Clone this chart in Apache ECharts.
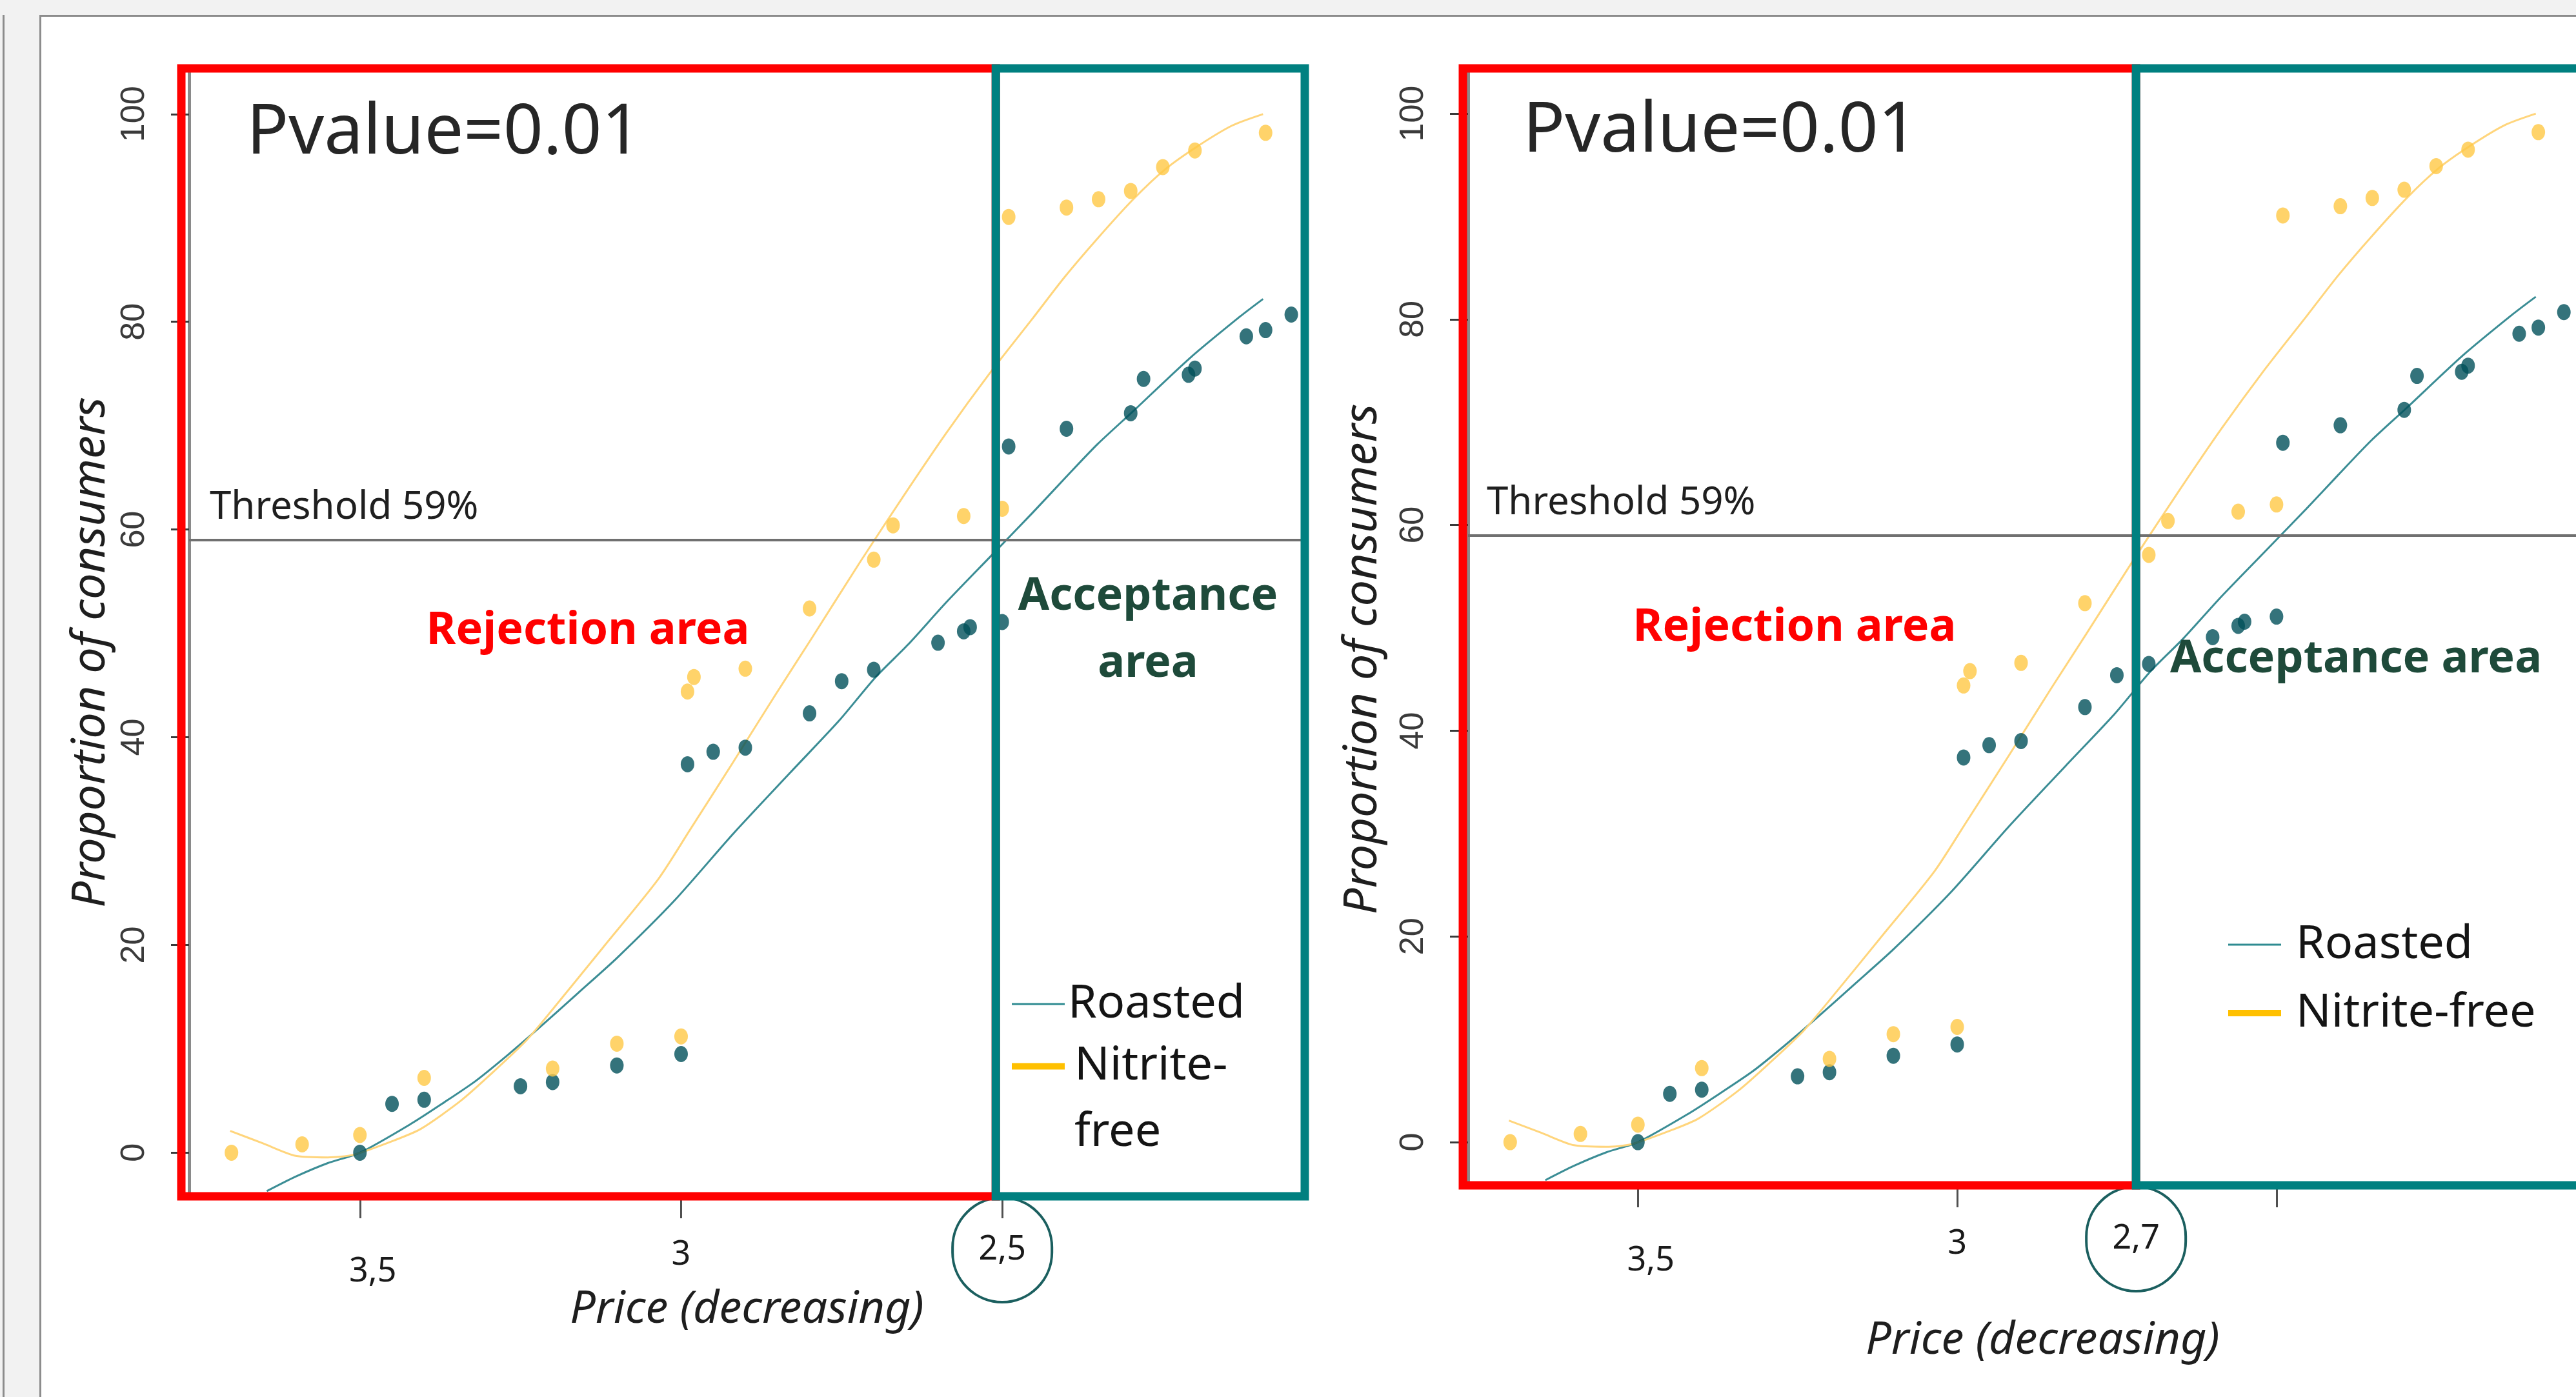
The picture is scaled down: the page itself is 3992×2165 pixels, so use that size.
<!DOCTYPE html>
<html>
<head>
<meta charset="utf-8">
<title>Price acceptance - Roasted vs Nitrite-free</title>
<script src="https://cdn.jsdelivr.net/npm/echarts@6/dist/echarts.min.js"></script>
<style>
  html, body { margin: 0; padding: 0; background: #f2f2f2; overflow: hidden; }
  #edge { position: absolute; left: 4px; top: 23px; width: 3px; height: 2200px; background: #8c8c8c; }
  #card { position: absolute; left: 61px; top: 23px; width: 4000px; height: 2200px; background: #fff; border: 3px solid #8c8c8c; }
  #chart-container { position: absolute; left: 0; top: 0; width: 3992px; height: 2165px; }
</style>
</head>
<body>
<div id="edge"></div>
<div id="card"></div>
<div id="chart-container"></div>
<script>
// observed proportions (price decreasing -> more consumers accept)
var roastedPrice = [3.50, 3.45, 3.40, 3.25, 3.20, 3.10, 3.00, 2.99, 2.95, 2.90, 2.80, 2.75, 2.70, 2.60, 2.56, 2.55, 2.50, 2.49, 2.40, 2.30, 2.28, 2.21, 2.20, 2.12, 2.09, 2.05];
var roastedObs = [0, 4.7, 5.1, 6.4, 6.8, 8.4, 9.5, 37.4, 38.6, 39.0, 42.3, 45.4, 46.5, 49.1, 50.2, 50.6, 51.1, 68.0, 69.7, 71.2, 74.5, 74.9, 75.5, 78.6, 79.2, 80.7];
var nitritePrice = [3.70, 3.59, 3.50, 3.40, 3.20, 3.10, 3.00, 2.99, 2.98, 2.90, 2.80, 2.70, 2.67, 2.56, 2.50, 2.49, 2.40, 2.35, 2.30, 2.25, 2.20, 2.09];
var nitriteObs = [0, 0.8, 1.7, 7.2, 8.1, 10.5, 11.2, 44.4, 45.8, 46.6, 52.4, 57.1, 60.4, 61.3, 62.0, 90.1, 91.0, 91.8, 92.6, 94.9, 96.5, 98.2];

// fitted curves
var roastedFitPrice = [3.645, 3.60, 3.55, 3.50, 3.42, 3.37, 3.32, 3.27, 3.225, 3.16, 3.099, 3.01, 2.919, 2.83, 2.754, 2.697, 2.647, 2.587, 2.52, 2.453, 2.403, 2.352, 2.296, 2.208, 2.13, 2.094];
var roastedFit = [-3.7, -2.3, -1.0, 0, 2.8, 4.8, 6.9, 9.4, 11.8, 15.4, 18.8, 24.3, 30.7, 36.6, 41.6, 45.8, 48.9, 53.0, 57.3, 61.6, 64.9, 68.2, 71.4, 76.5, 80.5, 82.2];
var nitriteFitPrice = [3.702, 3.651, 3.60, 3.55, 3.51, 3.446, 3.405, 3.343, 3.292, 3.241, 3.20, 3.121, 3.036, 2.987, 2.919, 2.852, 2.798, 2.721, 2.654, 2.587, 2.52, 2.453, 2.403, 2.352, 2.296, 2.246, 2.196, 2.142, 2.094];
var nitriteFit = [2.1, 0.9, -0.3, -0.45, -0.2, 1.2, 2.3, 5.0, 7.8, 10.8, 13.8, 19.8, 26.3, 31.0, 37.6, 44.2, 49.4, 56.9, 63.2, 69.3, 75.0, 80.3, 84.3, 88.0, 91.8, 94.7, 96.9, 98.9, 100.0];

var yTicks = [0, 20, 40, 60, 80, 100];
var xTicks = [3.5, 3, 2.5];
var threshold = 59;

var panels = [
  { cut: 2.51, labels: [3.5, 3, 2.5], ring: 2.5,
    grid: { left: 293, top: 106, width: 1729, height: 1748 }, boxPad: 12, boxExtra: 0,
    nameGapX: 141, nameGapY: 116, namePadX: [0, 0, 0, 0], namePadY: [0, 62, 0, 0] },
  { cut: 2.72, labels: [3.5, 3, 2.72], ring: 2.72,
    grid: { left: 2275, top: 106, width: 1719, height: 1731 }, boxPad: 8, boxExtra: 30,
    nameGapX: 206, nameGapY: 127, namePadX: [0, 0, 0, 62], namePadY: [0, 100, 0, 0] }
];

function zip(xs, ys) {
  return xs.map(function (x, i) { return [x, ys[i]]; });
}

function priceText(v) {
  return String(Math.round(v * 10) / 10).replace('.', ',');
}

var dom = document.getElementById('chart-container');
var myChart = echarts.init(dom, null, { renderer: 'canvas' });

var grids = [], xAxes = [], yAxes = [], series = [];

panels.forEach(function (p, i) {
  grids.push({
    left: p.grid.left, top: p.grid.top, width: p.grid.width, height: p.grid.height,
    containLabel: false, outerBoundsMode: 'none'
  });

  xAxes.push({
    type: 'value', gridIndex: i, min: 2.029, max: 3.766, inverse: true,
    name: 'Price (decreasing)', nameLocation: 'middle', nameGap: p.nameGapX, nameMoveOverlap: false,
    nameTextStyle: { fontSize: 70, fontStyle: 'italic', fontFamily: 'Noto Sans', color: '#1e1e1e', padding: p.namePadX },
    axisLine: { show: false, onZero: false },
    axisTick: { show: true, customValues: xTicks, length: 34, lineStyle: { color: '#505050', width: 3 } },
    splitLine: { show: false },
    axisLabel: {
      customValues: p.labels, margin: 2, fontSize: 52, fontFamily: 'Noto Sans', color: '#1a1a1a',
      formatter: function (v) {
        var key = Math.abs(v - p.ring) < 1e-6 ? 'ring' : (Math.abs(v - 3.5) < 1e-6 ? 'low' : 'mid');
        return '{' + key + '|' + priceText(v) + '}';
      },
      rich: {
        mid: { lineHeight: 178, fontSize: 52, fontFamily: 'Noto Sans', verticalAlign: 'middle' },
        low: { lineHeight: 230, fontSize: 52, fontFamily: 'Noto Sans', verticalAlign: 'middle', padding: [0, 0, 0, 40] },
        ring: {
          width: 154, height: 162, lineHeight: 162, fontSize: 52, fontFamily: 'Noto Sans',
          align: 'center', verticalAlign: 'middle',
          borderColor: '#1b5f5f', borderWidth: 4, borderRadius: 81
        }
      }
    }
  });

  yAxes.push({
    type: 'value', gridIndex: i, min: -4.2, max: 104.4,
    name: 'Proportion of consumers', nameLocation: 'middle', nameGap: p.nameGapY, nameMoveOverlap: false,
    nameTextStyle: { fontSize: 72, fontStyle: 'italic', fontFamily: 'Noto Sans', color: '#1e1e1e', padding: p.namePadY },
    axisLine: { show: true, lineStyle: { color: '#8a8a8a', width: 5 } },
    axisTick: { show: true, customValues: yTicks, length: 28, lineStyle: { color: '#3a3a3a', width: 3 } },
    splitLine: { show: false },
    axisLabel: { customValues: yTicks, rotate: 90, margin: 58, fontSize: 52, fontFamily: 'Liberation Sans', color: '#3a3a3a' }
  });

  series.push({
    name: 'Roasted', type: 'line', xAxisIndex: i, yAxisIndex: i,
    data: zip(roastedFitPrice, roastedFit), smooth: 0.25, showSymbol: false, z: 2,
    lineStyle: { color: '#3b8d95', width: 3 }, itemStyle: { color: '#3b8d95' },
    markLine: {
      silent: true, symbol: ['none', 'none'], label: { show: false },
      lineStyle: { color: '#707070', width: 4, type: 'solid' },
      data: [{ yAxis: threshold }]
    }
  });
  series.push({
    name: 'Nitrite-free', type: 'line', xAxisIndex: i, yAxisIndex: i,
    data: zip(nitriteFitPrice, nitriteFit), smooth: 0.25, showSymbol: false, z: 2,
    lineStyle: { color: '#ffd57c', width: 3 }, itemStyle: { color: '#ffd57c' }
  });
  series.push({
    name: 'Roasted observed', type: 'scatter', xAxisIndex: i, yAxisIndex: i,
    data: zip(roastedPrice, roastedObs), symbol: 'circle', symbolSize: [21, 25], z: 3,
    itemStyle: { color: '#01505a' }
  });
  series.push({
    name: 'Nitrite-free observed', type: 'scatter', xAxisIndex: i, yAxisIndex: i,
    data: zip(nitritePrice, nitriteObs), symbol: 'circle', symbolSize: [21, 25], z: 3,
    itemStyle: { color: '#ffc845' }
  });
});

var legendText = { fontSize: 72, fontFamily: 'Noto Sans', color: '#141414' };
var thinIcon = 'path://M0 0H82V3H0Z';
var thickIcon = 'path://M0 0H82V10H0Z';

var option = {
  backgroundColor: 'transparent',
  animation: false,
  grid: grids,
  xAxis: xAxes,
  yAxis: yAxes,
  legend: [
    {
      left: 1568, top: 1506, orient: 'vertical', padding: 0, itemWidth: 82, itemHeight: 20, selectedMode: false,
      data: [{ name: 'Roasted', icon: thinIcon, itemStyle: { color: '#2f8b91', borderWidth: 0 } }],
      textStyle: Object.assign({ lineHeight: 100 }, legendText)
    },
    {
      left: 1568, top: 1498, orient: 'vertical', padding: 0, itemWidth: 82, itemHeight: 20, selectedMode: false,
      data: [{ name: 'Nitrite-free', icon: thickIcon, itemStyle: { color: '#ffc000', borderWidth: 0 } }],
      formatter: function () { return ' \nNitrite-\nfree'; },
      textStyle: Object.assign({ lineHeight: 103, padding: [0, 0, 0, 10] }, legendText)
    },
    {
      left: 3453, top: 1419, orient: 'vertical', padding: 0, itemWidth: 82, itemHeight: 20, itemGap: 16, selectedMode: false,
      data: [
        { name: 'Roasted', icon: thinIcon, itemStyle: { color: '#2f8b91', borderWidth: 0 } },
        { name: 'Nitrite-free', icon: thickIcon, itemStyle: { color: '#ffc000', borderWidth: 0 } }
      ],
      textStyle: Object.assign({ lineHeight: 90, padding: [0, 0, 0, 18] }, legendText)
    }
  ],
  series: series
};

myChart.setOption(option);

// annotation texts, in pixels
function note(text, x, y, font, fill, align, lineHeight) {
  return {
    type: 'text', z: 120, silent: true,
    style: { text: text, x: x, y: y, font: font, fill: fill, align: align || 'left', verticalAlign: 'middle', lineHeight: lineHeight }
  };
}

var graphics = [];
panels.forEach(function (p, i) {
  var g = p.grid;
  var cutX = myChart.convertToPixel({ xAxisIndex: i }, p.cut);
  graphics.push({
    type: 'rect', z: 100, silent: true,
    shape: { x: g.left - p.boxPad, y: g.top, width: cutX - g.left + p.boxPad, height: g.height },
    style: { fill: 'none', stroke: '#ff0000', lineWidth: 13 }
  });
  graphics.push({
    type: 'rect', z: 101, silent: true,
    shape: { x: cutX, y: g.top, width: g.left + g.width - cutX + p.boxExtra, height: g.height },
    style: { fill: 'none', stroke: '#008080', lineWidth: 13 }
  });
});

graphics.push(note('Pvalue=0.01', 382, 207, '108px "Noto Sans"', '#262626'));
graphics.push(note('Threshold 59%', 325, 787, '60px "Noto Sans"', '#1f1f1f'));
graphics.push(note('Rejection area', 911, 978, 'bold 70px "Noto Sans"', '#ff0000', 'center'));
graphics.push(note('Acceptance\narea', 1779, 977, 'bold 70px "Noto Sans"', '#1e4a3a', 'center', 104));

graphics.push(note('Pvalue=0.01', 2360, 204, '108px "Noto Sans"', '#262626'));
graphics.push(note('Threshold 59%', 2304, 780, '60px "Noto Sans"', '#1f1f1f'));
graphics.push(note('Rejection area', 2781, 973, 'bold 70px "Noto Sans"', '#ff0000', 'center'));
graphics.push(note('Acceptance area', 3651, 1022, 'bold 70px "Noto Sans"', '#1e4a3a', 'center'));

myChart.setOption({ graphic: graphics });

window.addEventListener('resize', myChart.resize);
</script>
</body>
</html>
